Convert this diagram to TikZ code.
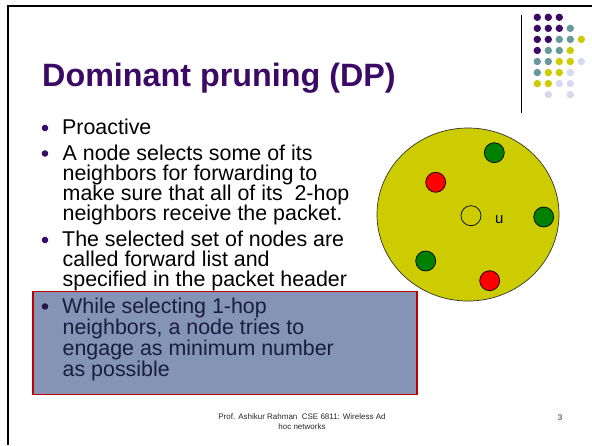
\documentclass[tikz,border=0pt]{standalone}
\usepackage{fontspec}
\setmainfont{Liberation Sans}
\usetikzlibrary{shapes.geometric}
\definecolor{cPur}{RGB}{60,10,100}
\definecolor{cTeal}{RGB}{102,153,153}
\definecolor{cYel}{RGB}{204,204,0}
\definecolor{cLav}{RGB}{216,216,240}
\definecolor{cBox}{RGB}{132,147,182}
\definecolor{cBoxLine}{RGB}{192,0,0}
\definecolor{cBoxText}{RGB}{25,30,60}
\definecolor{cGreen}{RGB}{0,128,0}
\definecolor{cRed}{RGB}{255,0,0}
\definecolor{cFoot}{RGB}{40,40,40}
\begin{document}
\begin{tikzpicture}[x=1pt,y=-1pt,
  griddot/.style={circle,inner sep=0pt,minimum size=7.4pt,draw=none},
  titletext/.style={inner sep=0pt,anchor=base west,text=cPur,font=\fontsize{32.3}{32}\selectfont\bfseries},
  bodytext/.style={inner sep=0pt,anchor=base west,font=\fontsize{21.4}{21}\selectfont},
  boxtext/.style={bodytext,text=cBoxText},
  bul/.style={circle,inner sep=0pt,minimum size=6.6pt,fill=cPur},
  netnode/.style={circle,inner sep=0pt,minimum size=20pt,draw=black,line width=0.7pt},
  foottext/.style={inner sep=0pt,anchor=base,text=cFoot,font=\fontsize{8}{8}\selectfont}]
\useasboundingbox (0,0) rectangle (592,445);
\fill[white] (0,0) rectangle (592,445);
% slide frame
\draw[line width=2.2pt] (8,445) -- (8,6) -- (592,6);
% decoration
\coordinate (vtop) at (521.5,15);
\coordinate (vbot) at (521.5,113);
\draw[line width=1pt] (vtop) -- (vbot);
\foreach \c/\r/\k [count=\i] in {
  0/0/cPur,1/0/cPur,2/0/cPur,
  0/1/cPur,1/1/cPur,2/1/cPur,3/1/cTeal,
  0/2/cPur,1/2/cPur,2/2/cTeal,3/2/cTeal,4/2/cYel,
  0/3/cPur,1/3/cTeal,2/3/cTeal,3/3/cYel,
  0/4/cTeal,1/4/cTeal,2/4/cYel,3/4/cYel,4/4/cLav,
  0/5/cTeal,1/5/cYel,2/5/cYel,3/5/cLav,
  0/6/cYel,1/6/cYel,2/6/cLav,3/6/cLav,
  1/7/cLav,3/7/cLav}
  \node[griddot,fill=\k] (dot\i) at ({537.3+11*\c},{17.3+11.05*\r}) {};
% title
\node[titletext] (title) at (42,86) {Dominant pruning (DP)};
% highlighted box
\node[draw=cBoxLine,fill=cBox,line width=1.6pt,inner sep=0pt,minimum width=384pt,minimum height=103pt,anchor=north west] (hbox) at (32,290.5) {};
% bullets
\node[bodytext] (p1) at (62,134.5) {Proactive};
\node[bul] (b1) at (45,128) {};
\node[bodytext] (p2a) at (62.5,160) {A node selects some of its};
\node[bodytext] (p2b) at (62.5,180.2) {neighbors for forwarding to};
\node[bodytext] (p2c) at (62.5,200.4) {make sure that all of its\ \ 2-hop};
\node[bodytext] (p2d) at (62.5,220.6) {neighbors receive the packet.};
\node[bul] (b2) at (45,153.5) {};
\node[bodytext] (p3a) at (62,246.5) {The selected set of nodes are};
\node[bodytext] (p3b) at (62.5,266.5) {called forward list and};
\node[bodytext] (p3c) at (62.5,286.5) {specified in the packet header};
\node[bul] (b3) at (45,240) {};
\node[boxtext] (p4a) at (62,313) {While selecting 1-hop};
\node[boxtext] (p4b) at (62.5,334) {neighbors, a node tries to};
\node[boxtext] (p4c) at (62.5,355) {engage as minimum number};
\node[boxtext] (p4d) at (62.5,376) {as possible};
\node[bul,fill=cBoxText!70!cPur] (b4) at (45,306.5) {};
% network
\node[ellipse,draw=black!80,line width=0.7pt,fill=cYel,minimum width=182pt,minimum height=173pt,inner sep=0pt] (range) at (468,214.5) {};
\node[netnode,fill=cRed] (r1) at (435.7,182.3) {};
\node[netnode,fill=cGreen] (g1) at (494.3,152.7) {};
\node[netnode,fill=none] (u) at (471,215.7) {};
\node[inner sep=0pt,anchor=base,font=\fontsize{15}{15}\selectfont] (ulab) at (499.3,223.3) {u};
\node[netnode,fill=cGreen] (g2) at (543.7,217) {};
\node[netnode,fill=cGreen] (g3) at (425.7,261) {};
\node[netnode,fill=cRed] (r2) at (489.7,280.7) {};
% footer
\node[foottext] (f1) at (302,419.5) {Prof. Ashikur Rahman\ \ CSE 6811: Wireless Ad};
\node[foottext] (f2) at (302,429.5) {hoc networks};
\node[foottext] (num) at (560,420) {3};
\end{tikzpicture}
\end{document}
